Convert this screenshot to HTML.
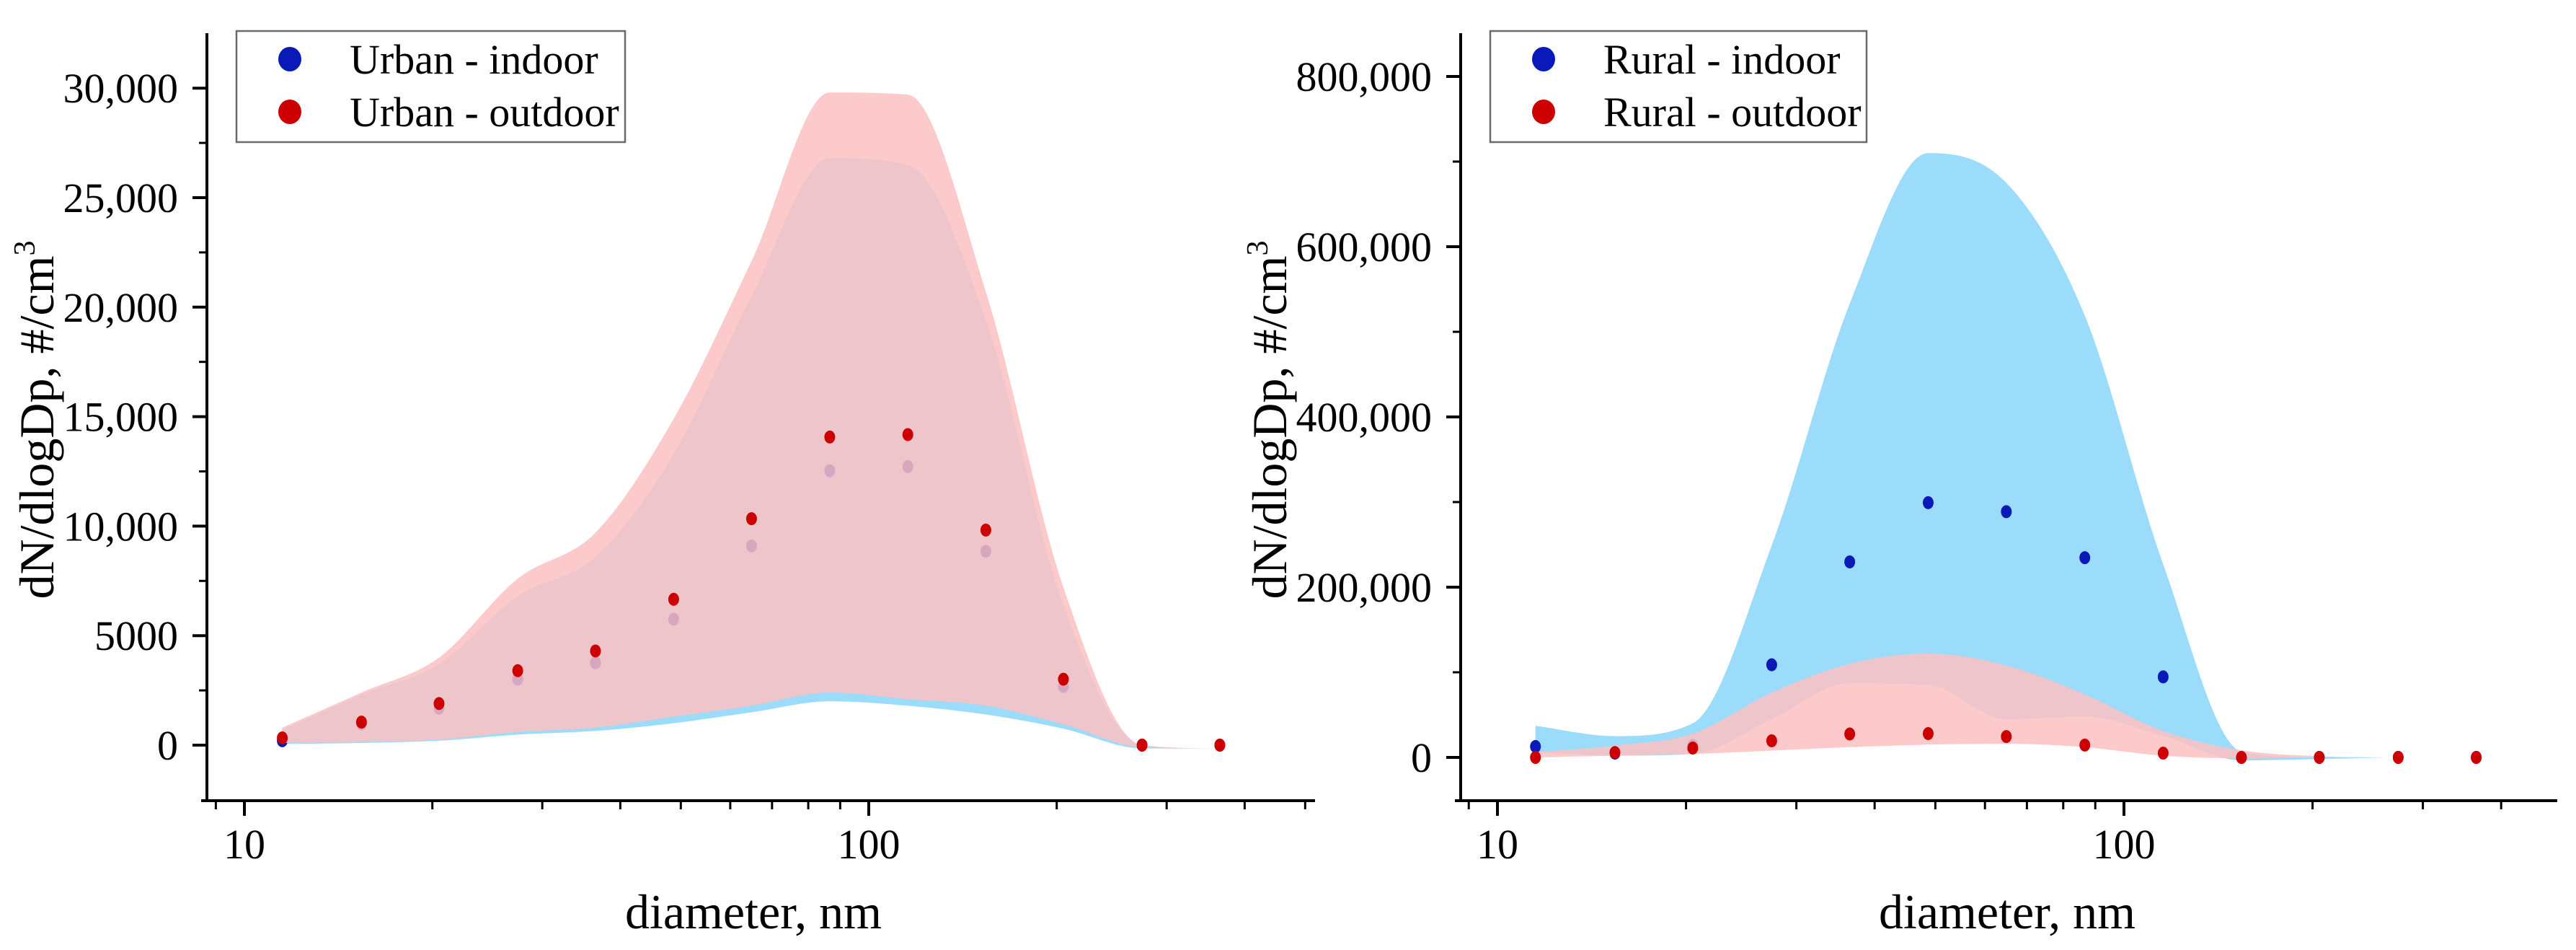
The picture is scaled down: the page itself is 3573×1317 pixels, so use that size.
<!DOCTYPE html>
<html><head><meta charset="utf-8">
<style>
html,body{margin:0;padding:0;background:#fff;}
svg{display:block;}
text{font-family:"Liberation Serif",serif;fill:#000;}
</style></head>
<body>
<svg id="chart" width="3573" height="1317" viewBox="0 0 3573 1317" xmlns="http://www.w3.org/2000/svg">
<g id="left"></g>
<g id="right"></g>
</svg>
<script>
// shared diameters (nm)
const diameters = [11.5,15.4,20.5,27.4,36.5,48.7,64.9,86.6,115.5,154,205,274,365];
// Urban
const urbanIndoor  = [200,970,1690,3010,3760,5750,9100,12530,12720,8850,2680,0,0];
const urbanOutdoor = [330,1050,1900,3400,4300,6660,10340,14070,14180,9820,3010,0,0];
const urbanInUpper = [700,2300,3700,6800,8600,13300,20500,26800,26500,19400,6400,0,-150];
const urbanInLower = [50,100,200,480,650,1000,1500,2000,1800,1400,750,-150,-150];
const urbanOutUpper= [800,2400,4000,7600,9700,14900,22100,29800,29700,20700,7200,0,-150];
const urbanOutLower= [100,150,250,600,800,1300,1800,2400,2100,1800,950,-100,-150];
const urbanYTicks = [0,5000,10000,15000,20000,25000,30000];
const urbanYLabels = ["0","5000","10,000","15,000","20,000","25,000","30,000"];
// Rural
const ruralIndoor  = [12800,5000,14000,108800,229700,299300,288700,234600,94600,0,0,0,0];
const ruralOutdoor = [0,5700,11000,19500,27500,28000,24500,14500,5000,0,0,0,0];
const ruralInUpper = [37000,25000,40000,249000,533000,710000,675000,519000,227000,7000,0,0,0];
const ruralInLower = [6000,2000,4000,45000,87000,85000,45000,48000,25000,-3500,-2000,0,0];
const ruralOutUpper= [6000,14000,28000,76000,110000,122000,108000,74000,31000,8500,1400,0,0];
const ruralOutLower= [0,2000,4000,8000,12000,15000,16000,12000,2000,-1000,0,0,0];
const ruralYTicks = [0,200000,400000,600000,800000];
const ruralYLabels = ["0","200,000","400,000","600,000","800,000"];
const xTickVals = [10,100];
const xTickLabels = ["10","100"];

const NS="http://www.w3.org/2000/svg";
function mk(parent,tag,attrs){const e=document.createElementNS(NS,tag);for(const k in attrs)e.setAttribute(k,attrs[k]);parent.appendChild(e);return e;}
// monotone cubic (Fritsch-Carlson) path; pts sorted by x ascending or descending
function mono(pts,first){
  const n=pts.length,dx=[],m=[],t=[];
  for(let i=0;i<n-1;i++){dx[i]=pts[i+1][0]-pts[i][0];m[i]=(pts[i+1][1]-pts[i][1])/dx[i];}
  t[0]=m[0];t[n-1]=m[n-2];
  for(let i=1;i<n-1;i++){t[i]=(m[i-1]*m[i]<=0)?0:(m[i-1]+m[i])/2;}
  for(let i=0;i<n-1;i++){
    if(m[i]===0){t[i]=0;t[i+1]=0;continue;}
    const a=t[i]/m[i],b=t[i+1]/m[i],s=a*a+b*b;
    if(s>9){const k=3/Math.sqrt(s);t[i]=k*a*m[i];t[i+1]=k*b*m[i];}
  }
  let d=(first?"M":"L")+pts[0][0].toFixed(1)+","+pts[0][1].toFixed(1);
  for(let i=0;i<n-1;i++){
    const h=dx[i]/3;
    d+="C"+(pts[i][0]+h).toFixed(1)+","+(pts[i][1]+t[i]*h).toFixed(1)+" "+(pts[i+1][0]-h).toFixed(1)+","+(pts[i+1][1]-t[i+1]*h).toFixed(1)+" "+pts[i+1][0].toFixed(1)+","+pts[i+1][1].toFixed(1);
  }
  return d;
}
function band(g,xf,yf,up,lo,fill,name){
  const top=diameters.map((d,i)=>[xf(d),yf(up[i])]);
  const bot=diameters.map((d,i)=>[xf(d),yf(lo[i])]).reverse();
  const d=mono(top,true)+mono(bot,false)+"Z";
  const p=mk(g,"path",{d:d,fill:fill});
  
  
}
function points(g,xf,yf,vals,color,name){
  vals.forEach((v,i)=>{
    const c=mk(g,"ellipse",{cx:xf(diameters[i]),cy:yf(v),rx:7.5,ry:9,fill:color});
    
    
  });
}
function panel(g,o){
  const xf=d=>o.x10+(Math.log10(d)-1)*o.dec;
  const yf=v=>o.y0-v*o.pxPer;
  const BLUE="rgb(156,220,251)", PINK="rgba(251,193,193,0.85)";
  band(g,xf,yf,o.inUp,o.inLo,BLUE,"indoor-range-band");
  points(g,xf,yf,o.inPts,"#0a1ab8","indoor-point");
  band(g,xf,yf,o.outUp,o.outLo,PINK,"outdoor-range-band");
  points(g,xf,yf,o.outPts,"#cc0000","outdoor-point");
  const ya=mk(g,"line",{x1:o.ax,y1:46,x2:o.ax,y2:1112,stroke:"#000","stroke-width":4});
  
  const xa=mk(g,"line",{x1:o.ax-8,y1:1110,x2:o.xEnd,y2:1110,stroke:"#000","stroke-width":4});
  
  o.yTicks.forEach((v,i)=>{
    const y=yf(v);
    mk(g,"line",{x1:o.ax-20,y1:y,x2:o.ax,y2:y,stroke:"#000","stroke-width":4});
    const t=mk(g,"text",{x:o.ax-40,y:y+20,"text-anchor":"end","font-size":58});
    t.textContent=o.yLabels[i];
    
    
    if(i<o.yTicks.length-1){const ym=yf((v+o.yTicks[i+1])/2);mk(g,"line",{x1:o.ax-11,y1:ym,x2:o.ax,y2:ym,stroke:"#000","stroke-width":3});}
  });
  {const step=o.yTicks[1]-o.yTicks[0];const top=o.yTicks[o.yTicks.length-1]+step/2;if(yf(top)>50)mk(g,"line",{x1:o.ax-11,y1:yf(top),x2:o.ax,y2:yf(top),stroke:"#000","stroke-width":3});}
  [9,20,30,40,50,60,70,80,90,200,300,400,500].forEach(v=>{const x=xf(v);if(x<o.xEnd)mk(g,"line",{x1:x,y1:1110,x2:x,y2:1122,stroke:"#000","stroke-width":3});});
  xTickVals.forEach((v,i)=>{
    const x=xf(v);
    mk(g,"line",{x1:x,y1:1110,x2:x,y2:1131,stroke:"#000","stroke-width":4});
    const t=mk(g,"text",{x:x,y:1190,"text-anchor":"middle","font-size":58});
    t.textContent=xTickLabels[i];
    
    
  });
  const xt=mk(g,"text",{x:o.xTitle,y:1287,"text-anchor":"middle","font-size":68});
  xt.textContent="diameter, nm";
  
  const yt=mk(g,"text",{x:0,y:0,"text-anchor":"middle","font-size":68,transform:"translate("+(o.yTitleX)+",582) rotate(-90)"});
  yt.setAttribute('xml:space','preserve');
  yt.innerHTML='dN/dlogDp,   #/cm<tspan dy="-26" font-size="42">3</tspan>';
  
  const lg=mk(g,"g",{});
  
  mk(lg,"rect",{x:o.lx,y:43,width:o.lw,height:154,fill:"#fff",stroke:"#6a6a6a","stroke-width":2.5});
  [["#0a1ab8",o.l1,82],["#cc0000",o.l2,155]].forEach(r=>{
    mk(lg,"ellipse",{cx:o.lx+74,cy:r[2],rx:16,ry:17,fill:r[0]});
    const t=mk(lg,"text",{x:o.lx+157,y:r[2]+20,"font-size":58});
    t.textContent=r[1];
    
  });
}
panel(document.getElementById('left'),{
  x10:339,dec:866,y0:1033,pxPer:151.8/5000,ax:287,xEnd:1824,
  inUp:urbanInUpper,inLo:urbanInLower,outUp:urbanOutUpper,outLo:urbanOutLower,
  inPts:urbanIndoor,outPts:urbanOutdoor,yTicks:urbanYTicks,yLabels:urbanYLabels,
  xTitle:1045,yTitleX:74,lx:328,lw:539,l1:"Urban - indoor",l2:"Urban - outdoor"});
panel(document.getElementById('right'),{
  x10:2077,dec:869,y0:1050,pxPer:236/200000,ax:2026,xEnd:3547,
  inUp:ruralInUpper,inLo:ruralInLower,outUp:ruralOutUpper,outLo:ruralOutLower,
  inPts:ruralIndoor,outPts:ruralOutdoor,yTicks:ruralYTicks,yLabels:ruralYLabels,
  xTitle:2784,yTitleX:1784,lx:2067,lw:522,l1:"Rural - indoor",l2:"Rural - outdoor"});
</script>
</body></html>
